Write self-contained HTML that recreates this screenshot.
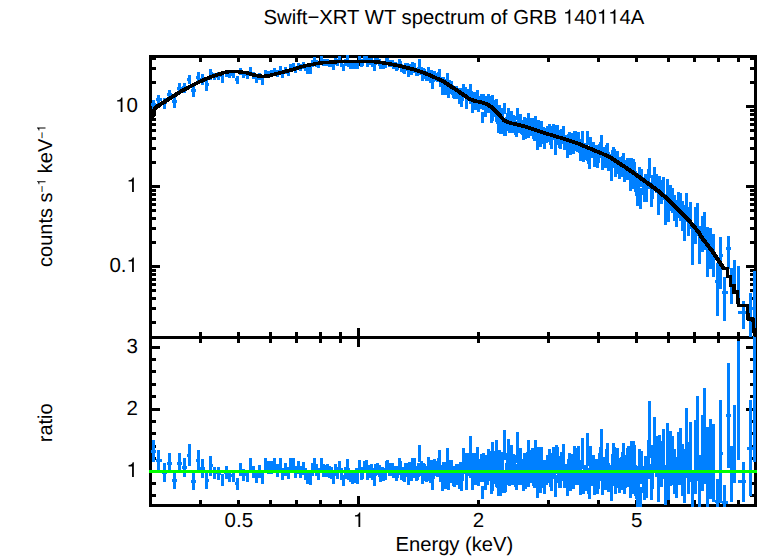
<!DOCTYPE html>
<html><head><meta charset="utf-8"><title>Swift-XRT WT spectrum of GRB 140114A</title>
<style>html,body{margin:0;padding:0;background:#fff}svg{display:block}</style></head>
<body><svg width="758" height="556" viewBox="0 0 758 556" shape-rendering="crispEdges" text-rendering="geometricPrecision">
<rect width="758" height="556" fill="#fff"/>
<g font-family="'Liberation Sans', sans-serif" fill="#000">
<text x="454.4" y="551" text-anchor="middle" font-size="20.2">Energy (keV)</text>
<text x="224.54" y="527" font-size="20.5">0.5</text>
<path d="M360.26 527.00L360.26 512.47L359.05 512.47C358.85 513.67 358.03 515.01 354.97 515.21L354.97 516.50L358.46 516.50L358.46 527.00Z" shape-rendering="auto"/>
<text x="472.71" y="527" font-size="20.5">2</text>
<text x="631.09" y="527" font-size="20.5">5</text>
<path d="M122.46 112.10L122.46 97.57L121.25 97.57C121.05 98.77 120.23 100.11 117.17 100.31L117.17 101.60L120.66 101.60L120.66 112.10Z" shape-rendering="auto"/><text x="126.50" y="112.1" font-size="20.5">0</text>
<path d="M133.86 192.10L133.86 177.57L132.65 177.57C132.45 178.78 131.63 180.11 128.57 180.31L128.57 181.60L132.06 181.60L132.06 192.10Z" shape-rendering="auto"/>
<text x="109.41" y="272.1" font-size="20.5">0.</text><path d="M133.86 272.10L133.86 257.57L132.65 257.57C132.45 258.78 131.63 260.11 128.57 260.31L128.57 261.60L132.06 261.60L132.06 272.10Z" shape-rendering="auto"/>
<path d="M133.86 476.90L133.86 462.37L132.65 462.37C132.45 463.57 131.63 464.91 128.57 465.11L128.57 466.40L132.06 466.40L132.06 476.90Z" shape-rendering="auto"/>
<text x="126.50" y="414.9" font-size="20.5">2</text>
<text x="126.50" y="352.9" font-size="20.5">3</text>
<text x="263.49" y="23.8" font-size="20.3" xml:space="preserve">Swift−XRT WT spectrum of GRB </text><path d="M570.29 23.80L570.29 9.41L569.09 9.41C568.89 10.61 568.07 11.92 565.05 12.13L565.05 13.41L568.50 13.41L568.50 23.80Z" shape-rendering="auto"/><text x="574.28" y="23.8" font-size="20.3">4</text><text x="585.57" y="23.8" font-size="20.3">0</text><path d="M604.15 23.80L604.15 9.41L602.95 9.41C602.75 10.61 601.93 11.92 598.91 12.13L598.91 13.41L602.36 13.41L602.36 23.80Z" shape-rendering="auto"/><path d="M615.43 23.80L615.43 9.41L614.24 9.41C614.03 10.61 613.22 11.92 610.20 12.13L610.20 13.41L613.65 13.41L613.65 23.80Z" shape-rendering="auto"/><text x="619.43" y="23.8" font-size="20.3">4</text><text x="630.72" y="23.8" font-size="20.3">A</text>
<g transform="translate(52,196) rotate(-90)"><text x="-70.93" y="0" font-size="20">counts s</text><text x="3.55" y="-6.5" font-size="12.0">−</text><path d="M14.87 -6.50L14.87 -15.01L14.16 -15.01C14.04 -14.30 13.56 -13.52 11.77 -13.40L11.77 -12.64L13.81 -12.64L13.81 -6.50Z" shape-rendering="auto"/><text x="17.23" y="0" font-size="20" xml:space="preserve"> keV</text><text x="57.25" y="-6.5" font-size="12.0">−</text><path d="M68.57 -6.50L68.57 -15.01L67.86 -15.01C67.74 -14.30 67.26 -13.52 65.47 -13.40L65.47 -12.64L67.51 -12.64L67.51 -6.50Z" shape-rendering="auto"/></g>
<text transform="translate(52,422.8) rotate(-90)" text-anchor="middle" font-size="20">ratio</text>
</g>
<g fill="none" stroke="#000" stroke-width="3">
<path d="M150.5 55.0V507.0M755.5 55.0V507.0M150.5 56.5H755.5M150.5 337.5H755.5M150.5 505.5H755.5"/>
<path d="M200.5 56.5v5.5M200.5 337.5v-5.5M200.5 337.5v5.5M200.5 505.5v-5.5M238.5 56.5v5.5M238.5 337.5v-5.5M238.5 337.5v5.5M238.5 505.5v-5.5M270.5 56.5v5.5M270.5 337.5v-5.5M270.5 337.5v5.5M270.5 505.5v-5.5M296.5 56.5v5.5M296.5 337.5v-5.5M296.5 337.5v5.5M296.5 505.5v-5.5M320.5 56.5v5.5M320.5 337.5v-5.5M320.5 337.5v5.5M320.5 505.5v-5.5M340.5 56.5v5.5M340.5 337.5v-5.5M340.5 337.5v5.5M340.5 505.5v-5.5M358.5 56.5v9.5M358.5 337.5v-9.5M358.5 337.5v9.5M358.5 505.5v-9.5M478.5 56.5v5.5M478.5 337.5v-5.5M478.5 337.5v5.5M478.5 505.5v-5.5M548.5 56.5v5.5M548.5 337.5v-5.5M548.5 337.5v5.5M548.5 505.5v-5.5M598.5 56.5v5.5M598.5 337.5v-5.5M598.5 337.5v5.5M598.5 505.5v-5.5M636.5 56.5v5.5M636.5 337.5v-5.5M636.5 337.5v5.5M636.5 505.5v-5.5M668.5 56.5v5.5M668.5 337.5v-5.5M668.5 337.5v5.5M668.5 505.5v-5.5M694.5 56.5v5.5M694.5 337.5v-5.5M694.5 337.5v5.5M694.5 505.5v-5.5M718.5 56.5v5.5M718.5 337.5v-5.5M718.5 337.5v5.5M718.5 505.5v-5.5M738.5 56.5v5.5M738.5 337.5v-5.5M738.5 337.5v5.5M738.5 505.5v-5.5M150.5 322.5h5.5M755.5 322.5h-5.5M150.5 308.5h5.5M755.5 308.5h-5.5M150.5 298.5h5.5M755.5 298.5h-5.5M150.5 290.5h5.5M755.5 290.5h-5.5M150.5 284.5h5.5M755.5 284.5h-5.5M150.5 279.5h5.5M755.5 279.5h-5.5M150.5 274.5h5.5M755.5 274.5h-5.5M150.5 270.5h5.5M755.5 270.5h-5.5M150.5 266.5h9.5M755.5 266.5h-9.5M150.5 242.5h5.5M755.5 242.5h-5.5M150.5 228.5h5.5M755.5 228.5h-5.5M150.5 218.5h5.5M755.5 218.5h-5.5M150.5 210.5h5.5M755.5 210.5h-5.5M150.5 204.5h5.5M755.5 204.5h-5.5M150.5 199.5h5.5M755.5 199.5h-5.5M150.5 194.5h5.5M755.5 194.5h-5.5M150.5 190.5h5.5M755.5 190.5h-5.5M150.5 186.5h9.5M755.5 186.5h-9.5M150.5 162.5h5.5M755.5 162.5h-5.5M150.5 148.5h5.5M755.5 148.5h-5.5M150.5 138.5h5.5M755.5 138.5h-5.5M150.5 130.5h5.5M755.5 130.5h-5.5M150.5 124.5h5.5M755.5 124.5h-5.5M150.5 119.5h5.5M755.5 119.5h-5.5M150.5 114.5h5.5M755.5 114.5h-5.5M150.5 110.5h5.5M755.5 110.5h-5.5M150.5 106.5h9.5M755.5 106.5h-9.5M150.5 82.5h5.5M755.5 82.5h-5.5M150.5 68.5h5.5M755.5 68.5h-5.5M150.5 58.5h5.5M755.5 58.5h-5.5M150.5 495.5h5.5M755.5 495.5h-5.5M150.5 483.5h5.5M755.5 483.5h-5.5M150.5 471.5h9.5M755.5 471.5h-9.5M150.5 458.5h5.5M755.5 458.5h-5.5M150.5 446.5h5.5M755.5 446.5h-5.5M150.5 433.5h5.5M755.5 433.5h-5.5M150.5 421.5h5.5M755.5 421.5h-5.5M150.5 409.5h9.5M755.5 409.5h-9.5M150.5 396.5h5.5M755.5 396.5h-5.5M150.5 384.5h5.5M755.5 384.5h-5.5M150.5 371.5h5.5M755.5 371.5h-5.5M150.5 359.5h5.5M755.5 359.5h-5.5M150.5 347.5h9.5M755.5 347.5h-9.5"/>
</g>
<g fill="none" stroke="#0080ff" stroke-width="3">
<path d="M153.3 99.9V109.3M150.5 104.3H156.2M158.9 95.0V105.1M156.2 99.7H161.7M164.3 97.8V108.8M161.7 102.8H167.0M169.6 89.5V99.7M167.0 94.3H172.1M174.6 95.7V107.5M172.1 101.1H177.1M179.6 83.3V93.5M177.1 88.0H182.0M184.4 82.6V93.1M182.0 87.5H186.7M189.1 74.5V84.1M186.7 79.0H191.4M193.6 85.3V97.2M191.4 90.8H195.8M198.0 72.4V82.4M195.8 77.0H200.2M202.4 74.3V84.9M200.2 79.2H204.5M206.6 78.9V90.7M204.5 84.3H208.7M210.7 69.1V79.5M208.7 73.9H212.7M214.7 73.0V80.4M212.7 76.5H216.7M218.6 72.2V79.6M216.7 75.7H220.6M222.5 74.9V82.7M220.6 78.6H224.4M226.2 69.5V76.7M224.4 72.9H228.1M229.9 70.8V78.2M228.1 74.3H231.7M233.5 70.9V78.3M231.7 74.4H235.3M237.0 76.1V83.9M235.3 79.8H238.8M240.5 67.8V74.7M238.8 71.1H242.2M243.9 71.1V78.3M242.2 74.6H245.6M247.2 72.2V79.4M245.6 75.6H248.9M250.5 67.3V73.9M248.9 70.5H252.1M253.7 72.2V79.2M252.1 75.5H255.3M256.8 75.9V83.2M255.3 79.3H258.4M259.9 73.0V80.0M258.4 76.3H261.4M262.9 77.1V84.5M261.4 80.6H264.4M265.9 69.5V76.0M264.4 72.6H267.4M268.9 70.5V77.2M267.4 73.7H270.3M271.7 69.8V76.5M270.3 73.0H273.2M274.6 67.7V74.0M273.2 70.7H276.0M277.4 70.0V76.9M276.0 73.3H278.7M280.1 66.3V72.7M278.7 69.4H281.5M282.8 70.5V77.6M281.5 73.9H284.1M285.5 67.2V74.1M284.1 70.5H286.8M288.1 68.5V75.5M286.8 71.8H289.4M290.7 63.5V70.0M289.4 66.6H291.9M293.2 62.8V69.3M291.9 65.9H294.5M295.7 65.7V72.7M294.5 69.0H297.0M298.2 62.5V69.2M297.0 65.7H299.4M300.6 64.1V71.0M299.4 67.4H301.8M303.0 61.8V68.6M301.8 65.0H304.2M305.4 64.2V71.3M304.2 67.6H306.6M307.7 66.2V73.5M306.6 69.7H308.9M310.0 66.1V73.5M308.9 69.6H311.2M312.3 60.4V67.2M311.2 63.6H313.4M314.5 57.4V63.9M313.4 60.5H315.7M316.8 59.8V66.7M315.7 63.1H317.9M318.9 61.4V68.4M317.9 64.7H320.0M321.1 56.4V62.9M320.0 59.5H322.2M323.2 59.1V66.0M322.2 62.4H324.3M325.3 59.3V66.2M324.3 62.6H326.4M327.4 58.8V65.7M326.4 62.1H328.5M329.5 59.6V66.6M328.5 62.9H330.5M331.5 60.0V67.0M330.5 63.3H332.5M333.5 62.7V70.0M332.5 66.2H334.5M335.5 58.0V64.8M334.5 61.2H336.5M337.5 59.3V66.3M336.5 62.6H338.5M339.4 56.4V63.1M338.5 59.6H340.4M341.3 60.0V67.0M340.4 63.3H342.3M343.2 63.9V71.4M342.3 67.4H344.2M345.1 59.4V66.3M344.2 62.7H346.1M347.0 55.4V61.9M346.1 58.5H347.9M348.8 60.1V67.1M347.9 63.4H349.7M350.6 61.3V68.5M349.7 64.7H351.5M352.4 62.1V69.4M351.5 65.5H353.3M354.2 61.7V69.0M353.3 65.1H355.1M356.0 59.9V66.9M355.1 63.2H356.9M357.7 62.0V69.3M356.9 65.5H358.6M359.5 55.8V62.4M358.6 58.9H360.3M361.2 59.8V66.8M360.3 63.2H362.0M362.9 58.9V65.8M362.0 62.2H363.7M364.5 55.9V62.6M363.7 59.1H365.4M366.2 55.8V62.4M365.4 58.9H367.0M367.9 59.6V66.7M367.0 63.0H368.7M369.5 58.4V65.2M368.7 61.6H370.3M371.1 57.5V64.3M370.3 60.8H371.9M372.7 59.8V66.8M371.9 63.1H373.5M374.3 63.9V71.3M373.5 67.4H375.1M375.9 58.1V64.9M375.1 61.3H376.6M377.4 57.6V64.4M376.6 60.8H378.2M379.0 58.8V65.7M378.2 62.1H379.7M380.5 62.1V69.3M379.7 65.5H381.2M382.0 60.6V67.6M381.2 63.9H382.8M383.5 61.8V68.8M382.8 65.1H384.3M385.0 61.3V68.3M384.3 64.6H385.7M386.5 57.9V64.5M385.7 61.1H387.2M387.9 57.7V64.2M387.2 60.8H388.7M389.4 59.8V66.5M388.7 63.0H390.1M390.8 60.3V67.0M390.1 63.5H391.6M392.3 60.2V67.0M391.6 63.4H393.0M393.7 62.0V68.9M393.0 65.3H394.4M395.1 62.4V69.3M394.4 65.7H395.8M396.5 64.1V71.2M395.8 67.5H397.2M397.9 62.9V69.8M397.2 66.2H398.5M399.2 59.4V65.8M398.5 62.4H399.9M400.6 60.9V68.2M399.9 64.4H401.3M401.9 64.1V71.8M401.3 67.7H402.6M403.3 64.7V72.5M402.6 68.4H404.0M404.6 66.0V74.0M404.0 69.8H405.3M405.9 63.2V70.8M405.3 66.8H406.6M407.2 63.4V71.1M406.6 67.0H407.9M408.5 68.5V76.8M407.9 72.4H409.2M409.8 63.7V71.5M409.2 67.4H410.5M411.1 66.7V74.8M410.5 70.5H411.7M412.4 62.3V69.8M411.7 65.9H413.0M413.6 65.5V73.4M413.0 69.2H414.3M414.9 63.0V70.6M414.3 66.6H415.5M416.1 67.8V76.1M415.5 71.7H416.8M417.4 67.7V75.9M416.8 71.6H418.0M418.6 66.6V74.6M418.0 70.4H419.2M419.8 59.3V66.7M419.2 62.8H420.4M421.0 66.6V74.6M420.4 70.4H421.6M422.2 71.9V80.6M421.6 75.9H422.8M423.4 68.3V76.6M422.8 72.2H424.0M424.6 69.2V77.6M424.0 73.1H425.2M425.8 70.9V79.4M425.2 74.9H426.4M426.9 72.0V80.6M426.4 76.1H427.5M428.1 67.4V75.3M427.5 71.1H428.7M429.3 72.2V80.8M428.7 76.2H429.8M430.4 74.0V82.8M429.8 78.1H431.0M431.5 70.3V78.6M431.0 74.2H432.1M432.7 81.0V88.8M432.1 84.7H433.2M433.8 73.2V81.8M433.2 77.2H434.4M434.9 71.3V79.7M434.4 75.3H435.5M436.0 72.6V81.1M435.5 76.6H436.6M437.1 73.4V82.0M436.6 77.5H437.7M438.2 72.3V80.7M437.7 76.3H438.8M439.3 69.3V77.3M438.8 73.1H439.8M440.4 77.7V86.8M439.8 81.9H440.9M441.5 77.4V86.5M440.9 81.6H442.0M442.5 86.5V94.7M442.0 90.4H443.1M443.6 76.7V85.7M443.1 80.9H444.1M444.6 81.2V90.8M444.1 85.7H445.2M445.7 84.4V94.6M445.2 89.1H446.2M446.7 79.0V88.3M446.2 83.3H447.2M447.8 73.4V81.9M447.2 77.4H448.3M448.8 87.1V97.5M448.3 91.9H449.3M449.8 80.2V89.5M449.3 84.6H450.3M450.8 84.2V94.1M450.3 88.8H451.3M451.8 81.1V90.5M451.3 85.5H452.3M452.8 84.9V94.8M452.3 89.5H453.3M453.8 87.5V97.8M453.3 92.2H454.3M454.8 88.5V99.0M454.3 93.3H455.3M455.8 86.6V96.8M455.3 91.3H456.3M456.8 86.4V96.5M456.3 91.1H457.3M457.8 88.9V99.4M457.3 93.7H458.3M458.8 87.7V98.0M458.3 92.5H459.2M459.7 92.9V103.9M459.2 98.0H460.2M460.7 88.1V98.3M460.2 92.8H461.2M461.6 95.2V106.6M461.2 100.5H462.1M462.6 90.1V100.6M462.1 94.9H463.1M463.5 84.0V93.5M463.1 88.4H464.0M464.5 87.3V97.2M464.0 91.9H464.9M465.4 87.4V97.2M464.9 91.9H465.9M466.3 97.6V109.3M465.9 103.0H466.8M467.3 90.1V100.4M466.8 94.9H467.7M468.2 89.3V99.5M467.7 94.0H468.6M469.1 90.5V100.8M468.6 95.3H469.5M470.0 83.6V93.4M469.5 88.1H470.5M470.9 93.0V103.7M470.5 97.9H471.4M471.8 90.7V100.7M471.4 95.3H472.3M472.7 100.7V112.8M472.3 106.2H473.1M473.6 93.7V104.6M473.1 98.7H474.0M474.5 92.0V102.5M474.0 96.8H474.9M475.4 98.4V110.1M474.9 103.8H475.8M476.2 94.0V105.0M475.8 99.1H476.7M477.1 90.1V100.4M476.7 94.8H477.5M478.0 99.4V111.4M477.5 104.9H478.4M478.8 99.6V111.6M478.4 105.1H479.3M479.7 95.9V107.4M479.3 101.2H480.1M480.6 97.1V108.8M480.1 102.4H481.0M481.4 93.7V104.7M481.0 98.8H481.8M482.3 112.2V122.9M481.8 117.1H482.7M483.1 98.0V109.8M482.7 103.4H483.5M483.9 94.3V105.5M483.5 99.5H484.4M484.8 95.9V107.4M484.4 101.2H485.2M485.6 103.5V116.5M485.2 109.4H486.0M486.4 96.0V107.5M486.0 101.3H486.8M487.3 100.7V113.0M486.8 106.3H487.7M488.1 94.3V105.2M487.7 99.3H488.5M488.9 98.7V110.6M488.5 104.2H489.3M489.7 96.0V107.4M489.3 101.2H490.1M490.5 100.4V112.5M490.1 105.9H490.9M491.3 109.3V123.2M490.9 115.6H491.7M492.1 107.6V121.0M491.7 113.7H492.5M492.9 94.7V105.9M492.5 99.9H493.3M493.7 104.4V117.0M493.3 110.1H494.1M494.5 100.1V111.8M494.1 105.4H494.9M495.3 104.1V116.3M494.9 109.7H495.7M496.1 109.0V122.2M495.7 115.0H496.5M496.9 98.5V109.9M496.5 103.7H497.3M497.7 111.0V124.3M497.3 117.1H498.1M498.5 117.8V132.5M498.1 124.4H498.9M499.3 104.9V116.2M498.9 110.1H499.7M500.1 118.8V133.5M499.7 125.4H500.5M500.9 108.6V120.9M500.5 114.2H501.3M501.7 108.3V120.4M501.3 113.8H502.1M502.5 112.1V124.9M502.1 117.9H502.9M503.3 122.7V134.4M502.9 128.1H503.7M504.1 102.5V114.3M503.7 107.9H504.5M504.9 121.2V135.7M504.5 127.7H505.3M505.7 121.1V135.5M505.3 127.6H506.1M506.5 117.0V130.5M506.1 123.1H507.0M507.4 112.8V125.3M507.0 118.5H507.8M508.2 107.5V119.5M507.8 113.0H508.6M509.0 113.3V126.0M508.6 119.1H509.4M509.8 118.7V132.5M509.4 124.9H510.2M510.6 117.8V131.4M510.2 123.9H511.0M511.4 111.1V123.3M511.0 116.7H511.8M512.2 118.7V132.5M511.8 125.0H512.6M513.1 115.1V128.2M512.6 121.0H513.5M513.9 119.0V132.8M513.5 125.2H514.3M514.7 115.9V129.1M514.3 121.9H515.1M515.5 120.5V134.7M515.1 126.9H515.9M516.3 124.8V137.3M515.9 130.5H516.7M517.2 107.6V120.1M516.7 113.3H517.6M518.0 119.3V133.4M517.6 125.6H518.4M518.8 116.2V129.6M518.4 122.3H519.2M519.6 118.1V131.9M519.2 124.3H520.1M520.5 114.2V126.7M520.1 119.9H520.9M521.3 120.2V134.4M520.9 126.6H521.7M522.1 120.5V134.7M521.7 126.9H522.5M523.0 124.5V139.7M522.5 131.3H523.4M523.8 119.9V133.8M523.4 126.2H524.2M524.6 117.4V130.7M524.2 123.4H525.0M525.5 123.8V138.6M525.0 130.4H525.9M526.3 120.9V134.9M525.9 127.2H526.7M527.1 117.9V131.3M526.7 124.0H527.6M528.0 113.2V125.9M527.6 119.0H528.4M528.8 123.8V138.3M528.4 130.3H529.2M529.7 117.8V130.9M529.2 123.7H530.1M530.5 121.6V135.6M530.1 127.9H530.9M531.3 120.6V134.3M530.9 126.8H531.8M532.2 117.9V130.9M531.8 123.8H532.6M533.0 118.3V131.3M532.6 124.2H533.5M533.9 124.7V139.2M533.5 131.2H534.3M534.7 125.8V140.5M534.3 132.4H535.1M535.6 116.1V128.9M535.1 121.9H536.0M536.4 124.6V138.9M536.0 131.0H536.8M537.3 133.8V150.3M536.8 141.1H537.7M538.1 119.7V132.7M537.7 125.6H538.6M539.0 124.8V138.9M538.6 131.1H539.4M539.8 122.1V135.6M539.4 128.2H540.3M540.7 131.0V146.5M540.3 137.9H541.1M541.6 120.8V133.8M541.1 126.7H542.0M542.4 128.7V143.5M542.0 135.3H542.8M543.3 126.7V141.0M542.8 133.1H543.7M544.1 133.3V149.1M543.7 140.3H544.6M545.0 127.5V141.9M544.6 133.9H545.4M545.9 128.0V142.5M545.4 134.5H546.3M546.7 128.1V142.5M546.3 134.6H547.2M547.6 125.7V139.5M547.2 131.9H548.0M548.5 127.5V141.7M548.0 133.9H548.9M549.3 124.0V137.4M548.9 130.1H549.8M550.2 130.4V145.2M549.8 137.0H550.6M551.1 133.3V148.6M550.6 140.1H551.5M551.9 128.9V143.2M551.5 135.3H552.4M552.8 126.4V140.1M552.4 132.6H553.3M553.7 124.4V137.6M553.3 130.4H554.1M554.6 126.2V139.7M554.1 132.3H555.0M555.5 138.7V155.3M555.0 146.0H555.9M556.3 124.5V137.5M555.9 130.4H556.8M557.2 125.4V138.4M556.8 131.3H557.7M558.1 130.4V144.6M557.7 136.8H558.5M559.0 133.3V148.2M558.5 139.9H559.4M559.9 129.8V143.9M559.4 136.1H560.3M560.7 133.5V149.2M560.3 140.5H561.2M561.6 128.7V142.5M561.2 134.9H562.1M562.5 129.1V144.3M562.1 135.9H563.0M563.4 126.2V139.3M563.0 132.1H563.9M564.3 135.4V150.0M563.9 141.9H564.7M565.2 135.2V149.1M564.7 141.5H565.6M566.1 136.5V150.0M565.6 142.6H566.5M567.0 145.0V158.0M566.5 150.9H567.4M567.9 142.7V157.6M567.4 149.4H568.3M568.8 134.4V150.7M568.3 141.6H569.2M569.7 131.6V146.4M569.2 138.3H570.1M570.6 140.6V154.5M570.1 146.8H571.0M571.5 132.6V146.2M571.0 138.7H571.9M572.4 134.9V150.4M571.9 141.8H572.8M573.3 136.7V153.6M572.8 144.2H573.7M574.2 130.5V145.1M573.7 137.0H574.6M575.1 131.4V144.8M574.6 137.5H575.5M576.0 135.9V151.4M575.5 142.8H576.4M576.9 134.9V149.5M576.4 141.4H577.4M577.8 138.3V151.8M577.4 144.4H578.3M578.7 132.0V147.6M578.3 139.0H579.2M579.6 138.5V153.1M579.2 145.1H580.1M580.6 143.7V161.2M580.1 151.3H581.0M581.5 146.9V160.5M581.0 153.1H581.9M582.4 130.6V144.2M581.9 136.8H582.8M583.3 144.9V161.6M582.8 152.2H583.8M584.2 144.1V159.2M583.8 150.9H584.7M585.1 143.0V158.4M584.7 149.9H585.6M586.1 144.0V159.9M585.6 151.1H586.5M587.0 130.7V144.5M586.5 136.9H587.4M587.9 145.9V161.1M587.4 152.7H588.4M588.8 146.7V164.4M588.4 154.4H589.3M589.8 155.4V169.2M589.3 161.6H590.2M590.7 136.8V153.1M590.2 144.0H591.2M591.6 144.4V158.4M591.2 150.7H592.1M592.5 142.0V156.3M592.1 148.4H593.0M593.5 142.1V155.8M593.0 148.3H593.9M594.4 151.2V167.4M593.9 158.3H594.9M595.4 144.8V159.5M594.9 151.4H595.8M596.3 144.9V160.8M595.8 152.0H596.8M597.2 152.7V167.8M596.8 159.4H597.7M598.2 149.2V163.3M597.7 155.6H598.6M599.1 143.5V158.1M598.6 150.0H599.6M600.0 141.5V157.3M599.6 148.5H600.5M601.0 135.1V149.2M600.5 141.4H601.5M601.9 141.2V155.6M601.5 147.7H602.4M602.9 156.1V170.4M602.4 162.5H603.4M603.8 147.4V162.3M603.4 154.1H604.3M604.8 149.9V163.6M604.3 156.0H605.2M605.7 153.2V168.0M605.2 159.9H606.2M606.7 145.0V161.4M606.2 152.2H607.1M607.6 143.0V157.7M607.1 149.6H608.1M608.6 152.4V171.1M608.1 160.5H609.1M609.5 154.3V171.2M609.1 161.7H610.0M610.5 154.2V169.4M610.0 161.0H611.0M611.4 163.5V181.4M611.0 171.3H611.9M612.4 150.4V168.2M611.9 158.2H612.9M613.4 146.6V160.1M612.9 152.7H613.8M614.3 148.5V163.6M613.8 155.3H614.8M615.3 160.7V177.0M614.8 167.9H615.8M616.3 154.2V170.7M615.8 161.5H616.7M617.2 150.8V169.1M616.7 158.8H617.7M618.2 157.1V173.9M617.7 164.5H618.7M619.2 161.5V178.7M618.7 169.0H619.6M620.1 157.2V173.3M619.6 164.3H620.6M621.1 157.2V176.7M620.6 165.6H621.6M622.1 155.9V175.1M621.6 164.2H622.6M623.1 152.9V171.4M622.6 160.9H623.5M624.0 164.0V182.3M623.5 172.0H624.5M625.0 161.6V178.1M624.5 168.9H625.5M626.0 159.7V177.6M625.5 167.5H626.5M627.0 157.5V175.5M626.5 165.3H627.5M627.9 161.7V179.6M627.5 169.5H628.4M628.9 157.9V173.5M628.4 164.8H629.4M629.9 162.5V178.6M629.4 169.6H630.4M630.9 174.5V190.6M630.4 181.6H631.4M631.9 158.0V173.7M631.4 165.0H632.4M632.9 168.4V188.9M632.4 177.1H633.4M633.9 159.3V178.7M633.4 167.7H634.4M634.9 161.9V178.5M634.4 169.2H635.3M635.8 171.2V192.3M635.3 180.2H636.3M636.8 177.3V196.3M636.3 185.5H637.3M637.8 189.3V206.1M637.3 196.7H638.3M638.8 173.9V189.9M638.3 181.0H639.3M639.8 167.0V183.7M639.3 174.4H640.3M640.8 188.4V208.5M640.3 197.0H641.3M641.9 169.2V187.3M641.3 177.1H642.4M643.0 177.3V195.1M642.4 185.1H643.6M644.2 182.8V202.3M643.6 191.2H644.8M645.4 174.1V191.7M644.8 181.8H646.1M646.7 177.9V202.0M646.1 187.9H647.4M648.1 169.3V188.6M647.4 177.6H648.8M649.6 158.4V177.9M648.8 166.8H650.4M651.2 181.8V207.1M650.4 192.2H652.0M652.8 174.6V198.9M652.0 184.7H653.7M654.5 166.6V187.4M653.7 175.5H655.4M656.2 174.1V193.1M655.4 182.3H657.1M658.0 186.9V214.6M657.1 198.1H658.9M659.8 176.3V199.1M658.9 185.9H660.6M661.5 180.2V204.3M660.6 190.2H662.4M663.3 177.4V200.3M662.4 187.0H664.2M665.2 193.9V224.8M664.2 206.0H666.1M667.0 178.6V202.2M666.1 188.5H667.9M668.8 197.0V221.7M667.9 207.2H669.8M670.7 184.9V211.2M669.8 195.6H671.7M672.6 188.2V212.9M671.7 198.4H673.6M674.5 195.2V221.2M673.6 205.8H675.5M676.5 200.4V226.8M675.5 211.2H677.5M678.4 192.4V218.3M677.5 203.0H679.4M680.4 193.3V220.6M679.4 204.3H681.4M682.4 200.8V231.2M681.4 212.8H683.4M684.4 205.0V241.0M683.4 218.5H685.4M686.5 193.4V222.2M685.4 204.9H687.5M688.5 206.7V236.0M687.5 218.4H689.6M690.6 202.4V229.4M689.6 213.3H691.7M692.8 224.7V264.6M691.7 239.2H693.8M695.0 206.8V243.6M693.8 220.5H696.1M697.3 203.0V236.4M696.1 215.8H698.5M699.7 225.8V263.5M698.5 239.8H701.0M702.3 215.8V251.8M701.0 229.3H703.6M704.9 212.1V249.8M703.6 226.1H706.3M707.7 226.7V277.1M706.3 243.5H709.1M710.6 227.9V269.3M709.1 242.8H712.1M713.7 233.8V277.3M712.1 249.1H715.3M717.0 263.3V315.5M715.3 281.9H718.8M720.7 237.3V288.9M718.8 255.2H722.7M724.9 277.0V321.0M721.5 292.5H728.3M728.3 235.9V269.3M725.5 248.7H731.0M731.7 267.8V303.6M730.0 281.3H733.5M734.0 260.2V292.8M733.0 272.8H735.5M738.4 266.3V299.8M736.5 279.2H740.3M743.0 300.7V329.0M738.4 312.1H746.3M750.3 292.7V336.8M746.5 308.2H754.0M754.3 271.2V328.3M753.5 294.7H755.5"/>
<path d="M153.3 440.2V462.3M150.5 451.3H156.2M158.9 450.2V471.0M156.2 460.6H161.7M164.3 462.8V481.9M161.7 472.3H167.0M169.6 452.8V473.3M167.0 463.0H172.1M174.6 471.5V489.3M172.1 480.4H177.1M179.6 452.8V473.3M177.1 463.0H182.0M184.4 457.5V477.3M182.0 467.4H186.7M189.1 444.2V465.8M186.7 455.0H191.4M193.6 472.2V489.8M191.4 481.0H195.8M198.0 450.2V471.0M195.8 460.6H200.2M202.4 458.8V478.4M200.2 468.6H204.5M206.6 471.5V489.3M204.5 480.4H208.7M210.7 455.5V475.6M208.7 465.5H212.7M214.7 466.5V479.3M212.7 472.9H216.7M218.6 467.2V479.9M216.7 473.5H220.6M222.5 474.1V486.0M220.6 480.1H224.4M226.2 466.1V478.7M224.4 472.4H228.1M229.9 469.6V481.8M228.1 475.7H231.7M233.5 469.9V481.9M231.7 475.9H235.3M237.0 478.4V489.5M235.3 483.9H238.8M240.5 463.2V475.8M238.8 469.5H242.2M243.9 468.9V480.9M242.2 474.9H245.6M247.2 470.0V481.9M245.6 476.0H248.9M250.5 458.1V471.1M248.9 464.6H252.1M253.7 466.0V478.3M252.1 472.1H255.3M256.8 471.3V483.1M255.3 477.2H258.4M259.9 465.4V477.7M258.4 471.5H261.4M262.9 472.5V484.1M261.4 478.3H264.4M265.9 458.1V470.9M264.4 464.5H267.4M268.9 460.8V473.6M267.4 467.2H270.3M271.7 461.0V473.7M270.3 467.4H273.2M274.6 458.1V470.6M273.2 464.4H276.0M277.4 464.4V476.8M276.0 470.6H278.7M280.1 458.1V470.9M278.7 464.5H281.5M282.8 468.1V480.1M281.5 474.1H284.1M285.5 463.2V475.7M284.1 469.4H286.8M288.1 467.0V479.1M286.8 473.0H289.4M290.7 458.2V470.9M289.4 464.6H291.9M293.2 458.2V470.9M291.9 464.5H294.5M295.7 465.7V477.9M294.5 471.8H297.0M298.2 460.8V473.5M297.0 467.1H299.4M300.6 465.6V477.8M299.4 471.7H301.8M303.0 462.4V474.9M301.8 468.6H304.2M305.4 468.4V480.4M304.2 474.4H306.6M307.7 472.8V484.3M306.6 478.6H308.9M310.0 473.3V484.7M308.9 479.0H311.2M312.3 463.4V475.9M311.2 469.6H313.4M314.5 458.2V470.9M313.4 464.5H315.7M316.8 464.0V476.4M315.7 470.2H317.9M318.9 467.7V479.7M317.9 473.7H320.0M321.1 458.2V471.0M320.0 464.6H322.2M323.2 464.4V476.7M322.2 470.5H324.3M325.3 465.0V477.3M324.3 471.2H326.4M327.4 464.4V476.8M326.4 470.6H328.5M329.5 466.3V478.4M328.5 472.3H330.5M331.5 467.1V479.2M330.5 473.2H332.5M333.5 472.3V483.9M332.5 478.1H334.5M335.5 463.7V476.1M334.5 469.9H336.5M337.5 466.5V478.6M336.5 472.5H338.5M339.4 460.8V473.4M338.5 467.1H340.4M341.3 467.9V479.8M340.4 473.9H342.3M343.2 474.9V486.2M342.3 480.5H344.2M345.1 466.8V478.9M344.2 472.9H346.1M347.0 458.9V471.6M346.1 465.2H347.9M348.8 468.3V480.2M347.9 474.2H349.7M350.6 470.6V482.3M349.7 476.5H351.5M352.4 472.1V483.6M351.5 477.8H353.3M354.2 471.5V483.1M353.3 477.3H355.1M356.0 468.2V480.1M355.1 474.1H356.9M357.7 472.2V483.7M356.9 477.9H358.6M359.5 460.2V472.8M358.6 466.5H360.3M361.2 468.2V480.1M360.3 474.1H362.0M362.9 466.5V478.5M362.0 472.5H363.7M364.5 460.5V473.1M363.7 466.8H365.4M366.2 460.2V472.9M365.4 466.5H367.0M367.9 467.9V479.8M367.0 473.9H368.7M369.5 465.4V477.6M368.7 471.5H370.3M371.1 463.6V475.9M370.3 469.8H371.9M372.7 467.7V479.7M371.9 473.7H373.5M374.3 474.8V486.0M373.5 480.4H375.1M375.9 463.8V476.1M375.1 470.0H376.6M377.4 462.7V475.1M376.6 468.9H378.2M379.0 464.8V477.0M378.2 470.9H379.7M380.5 470.8V482.4M379.7 476.6H381.2M382.0 467.4V479.4M381.2 473.4H382.8M383.5 469.1V480.9M382.8 475.0H384.3M385.0 467.8V479.7M384.3 473.7H385.7M386.5 460.6V473.1M385.7 466.9H387.2M387.9 459.5V472.1M387.2 465.8H388.7M389.4 463.2V475.6M388.7 469.4H390.1M390.8 463.7V476.0M390.1 469.8H391.6M392.3 463.1V475.4M391.6 469.2H393.0M393.7 466.1V478.1M393.0 472.1H394.4M395.1 466.3V478.3M394.4 472.3H395.8M396.5 468.9V480.7M395.8 474.8H397.2M397.9 466.1V478.1M397.2 472.1H398.5M399.2 458.3V470.9M398.5 464.6H399.9M400.6 460.9V474.7M399.9 467.8H401.3M401.9 466.7V479.9M401.3 473.3H402.6M403.3 467.2V480.5M402.6 473.8H404.0M404.6 469.1V482.2M404.0 475.6H405.3M405.9 462.9V476.7M405.3 469.8H406.6M407.2 462.7V476.7M406.6 469.7H407.9M408.5 471.8V484.8M407.9 478.3H409.2M409.8 462.1V476.2M409.2 469.1H410.5M411.1 467.3V481.0M410.5 474.1H411.7M412.4 457.7V472.4M411.7 465.0H413.0M413.6 463.5V477.7M413.0 470.6H414.3M414.9 457.5V472.2M414.3 464.9H415.5M416.1 466.5V480.6M415.5 473.6H416.8M417.4 465.6V479.8M416.8 472.7H418.0M418.6 462.5V477.1M418.0 469.8H419.2M419.8 445.1V462.0M419.2 453.6H420.4M421.0 461.0V475.9M420.4 468.4H421.6M422.2 470.4V484.3M421.6 477.4H422.8M423.4 462.9V477.7M422.8 470.3H424.0M424.6 463.7V478.5M424.0 471.1H425.2M425.8 466.1V480.7M425.2 473.4H426.4M426.9 467.2V481.7M426.4 474.5H427.5M428.1 456.8V472.3M427.5 464.5H428.7M429.3 465.8V480.6M428.7 473.2H429.8M430.4 468.2V482.8M429.8 475.5H431.0M431.5 460.1V475.6M431.0 467.8H432.1M432.7 478.6V489.6M432.1 484.1H433.2M433.8 463.9V479.2M433.2 471.5H434.4M434.9 459.1V475.0M434.4 467.0H435.5M436.0 460.7V476.4M435.5 468.6H436.6M437.1 461.3V477.1M436.6 469.2H437.7M438.2 457.9V474.1M437.7 466.0H438.8M439.3 450.0V467.1M438.8 458.6H439.8M440.4 466.8V482.1M439.8 474.4H440.9M441.5 465.3V480.9M440.9 473.1H442.0M442.5 480.2V491.3M442.0 485.8H443.1M443.6 461.8V478.1M443.1 470.0H444.1M444.6 469.4V484.8M444.1 477.1H445.2M445.7 473.9V488.8M445.2 481.3H446.2M446.7 462.3V478.9M446.2 470.6H447.2M447.8 448.3V466.7M447.2 457.5H448.3M448.8 474.7V489.8M448.3 482.2H449.3M449.8 460.4V477.5M449.3 469.0H450.3M450.8 467.0V483.4M450.3 475.2H451.3M451.8 459.5V477.0M451.3 468.2H452.3M452.8 465.8V482.6M452.3 474.2H453.3M453.8 469.5V485.9M453.3 477.7H454.3M454.8 470.3V486.7M454.3 478.5H455.3M455.8 465.6V482.8M455.3 474.2H456.3M456.8 464.0V481.5M456.3 472.8H457.3M457.8 467.6V484.6M457.3 476.1H458.3M458.8 464.0V481.7M458.3 472.8H459.2M459.7 472.2V488.9M459.2 480.5H460.2M460.7 461.9V480.1M460.2 471.0H461.2M461.6 474.0V490.5M461.2 482.3H462.1M462.6 463.2V481.4M462.1 472.3H463.1M463.5 448.3V468.5M463.1 458.4H464.0M464.5 454.4V474.0M464.0 464.2H464.9M465.4 453.2V472.7M464.9 463.0H465.9M466.3 472.5V489.7M465.9 481.1H466.8M467.3 456.4V476.0M466.8 466.2H467.7M468.2 453.2V473.4M467.7 463.3H468.6M469.1 454.6V474.8M468.6 464.7H469.5M470.0 436.2V460.2M469.5 448.2H470.5M470.9 458.5V478.3M470.5 468.4H471.4M471.8 452.5V472.7M471.4 462.6H472.3M472.7 472.1V490.1M472.3 481.1H473.1M473.6 457.8V478.0M473.1 467.9H474.0M474.5 453.1V474.1M474.0 463.6H474.9M475.4 466.3V485.4M474.9 475.8H475.8M476.2 456.8V477.4M475.8 467.1H476.7M477.1 447.2V469.3M476.7 458.2H477.5M478.0 467.1V486.3M477.5 476.7H478.4M478.8 467.1V486.4M478.4 476.8H479.3M479.7 459.4V480.1M479.3 469.8H480.1M480.6 461.5V481.9M480.1 471.7H481.0M481.4 453.6V475.2M481.0 464.4H481.8M482.3 486.1V498.5M481.8 492.3H482.7M483.1 461.7V482.3M482.7 472.0H483.5M483.9 453.3V475.3M483.5 464.3H484.4M484.8 456.3V477.9M484.4 467.1H485.2M485.6 470.9V490.3M485.2 480.6H486.0M486.4 455.4V477.3M486.0 466.3H486.8M487.3 464.3V484.9M486.8 474.6H487.7M488.1 449.0V471.7M487.7 460.4H488.5M488.9 458.0V479.8M488.5 468.9H489.3M489.7 450.7V473.7M489.3 462.2H490.1M490.5 459.4V481.1M490.1 470.2H490.9M491.3 475.2V494.3M490.9 484.8H491.7M492.1 471.3V491.2M491.7 481.2H492.5M492.9 441.9V467.0M492.5 454.5H493.3M493.7 462.3V483.8M493.3 473.0H494.1M494.5 450.9V474.3M494.1 462.6H494.9M495.3 457.9V480.2M494.9 469.0H495.7M496.1 466.2V487.3M495.7 476.7H496.5M496.9 440.2V466.2M496.5 453.2H497.3M497.7 466.7V487.8M497.3 477.2H498.1M498.5 477.1V496.4M498.1 486.7H498.9M499.3 449.7V472.9M498.9 461.3H499.7M500.1 475.9V495.6M499.7 485.8H500.5M500.9 454.5V477.9M500.5 466.2H501.3M501.7 451.9V475.8M501.3 463.8H502.1M502.5 458.5V481.4M502.1 470.0H502.9M503.3 476.7V492.9M502.9 484.8H503.7M504.1 430.0V459.7M503.7 444.8H504.5M504.9 472.0V492.8M504.5 482.4H505.3M505.7 471.2V492.2M505.3 481.7H506.1M506.5 462.6V485.3M506.1 474.0H507.0M507.4 452.6V477.0M507.0 464.8H507.8M508.2 438.6V466.2M507.8 452.4H508.6M509.0 452.3V476.9M508.6 464.6H509.4M509.8 463.2V486.1M509.4 474.7H510.2M510.6 460.8V484.1M510.2 472.5H511.0M511.4 445.0V471.1M511.0 458.0H511.8M512.2 462.0V485.3M511.8 473.7H512.6M513.1 453.9V478.7M512.6 466.3H513.5M513.9 461.8V485.3M513.5 473.5H514.3M514.7 454.8V479.6M514.3 467.2H515.1M515.5 464.2V487.4M515.1 475.8H515.9M516.3 472.0V490.4M515.9 481.2H516.7M517.2 432.1V462.6M516.7 447.4H517.6M518.0 460.7V484.7M517.6 472.7H518.4M518.8 453.5V478.9M518.4 466.2H519.2M519.6 457.2V482.0M519.2 469.6H520.1M520.5 447.7V473.5M520.1 460.6H520.9M521.3 460.8V485.0M520.9 472.9H521.7M522.1 460.9V485.1M521.7 473.0H522.5M523.0 468.4V491.2M522.5 479.8H523.4M523.8 458.6V483.2M523.4 470.9H524.2M524.6 452.5V478.2M524.2 465.4H525.0M525.5 465.6V489.0M525.0 477.3H525.9M526.3 459.2V483.8M525.9 471.5H526.7M527.1 452.1V478.0M526.7 465.1H527.6M528.0 439.6V468.3M527.6 453.9H528.4M528.8 463.6V487.4M528.4 475.5H529.2M529.7 449.8V476.1M529.2 462.9H530.1M530.5 457.8V482.7M530.1 470.3H530.9M531.3 455.1V480.5M530.9 467.8H531.8M532.2 447.9V474.5M531.8 461.2H532.6M533.0 448.1V474.7M532.6 461.4H533.5M533.9 461.9V486.1M533.5 474.0H534.3M534.7 463.6V487.5M534.3 475.5H535.1M535.6 440.3V468.9M535.1 454.6H536.0M536.4 459.9V484.5M536.0 472.2H536.8M537.3 476.5V497.9M536.8 487.2H537.7M538.1 447.4V474.1M537.7 460.8H538.6M539.0 458.5V483.4M538.6 470.9H539.4M539.8 451.8V477.9M539.4 464.9H540.3M540.7 469.6V492.5M540.3 481.1H541.1M541.6 447.3V474.1M541.1 460.7H542.0M542.4 464.1V488.1M542.0 476.1H542.8M543.3 459.6V484.4M542.8 472.0H543.7M544.1 471.8V494.2M543.7 483.0H544.6M545.0 460.2V484.9M544.6 472.5H545.4M545.9 460.8V485.4M545.4 473.1H546.3M546.7 460.3V485.0M546.3 472.7H547.2M547.6 454.5V480.2M547.2 467.4H548.0M548.5 458.0V483.2M548.0 470.6H548.9M549.3 449.4V476.1M548.9 462.8H549.8M550.2 463.0V487.2M549.8 475.1H550.6M551.1 468.0V491.3M550.6 479.6H551.5M551.9 458.7V483.8M551.5 471.3H552.4M552.8 452.6V478.8M552.4 465.7H553.3M553.7 447.1V474.2M553.3 460.7H554.1M554.6 450.9V477.4M554.1 464.1H555.0M555.5 475.3V497.2M555.0 486.2H555.9M556.3 445.4V472.7M555.9 459.1H556.8M557.2 447.1V474.0M556.8 460.5H557.7M558.1 457.9V483.2M557.7 470.6H558.5M559.0 463.4V487.7M558.5 475.5H559.4M559.9 455.6V481.3M559.4 468.4H560.3M560.7 462.9V488.4M560.3 475.7H561.2M561.6 451.7V478.4M561.2 465.0H562.1M562.5 452.0V480.8M562.1 466.4H563.0M563.4 444.3V472.2M563.0 458.2H563.9M564.3 464.4V488.0M563.9 476.2H564.7M565.2 463.5V486.5M564.7 475.0H565.6M566.1 465.5V487.3M565.6 476.4H566.5M567.0 479.8V496.4M566.5 488.1H567.4M567.9 475.7V495.7M567.4 485.7H568.3M568.8 459.4V487.1M568.3 473.3H569.2M569.7 452.7V480.6M569.2 466.6H570.1M570.6 470.4V491.0M570.1 480.7H571.0M571.5 453.6V479.2M571.0 466.4H571.9M572.4 458.1V484.9M571.9 471.5H572.8M573.3 461.2V488.9M572.8 475.0H573.7M574.2 446.3V476.1M573.7 461.2H574.6M575.1 447.8V475.1M574.6 461.5H575.5M576.0 457.5V484.7M575.5 471.1H576.4M576.9 454.5V481.5M576.4 468.0H577.4M577.8 461.3V484.4M577.4 472.8H578.3M578.7 446.1V477.5M578.3 461.8H579.2M579.6 460.0V485.2M579.2 472.6H580.1M580.6 469.4V494.7M580.1 482.1H581.0M581.5 474.5V493.5M581.0 484.0H581.9M582.4 438.4V469.1M581.9 453.7H582.8M583.3 469.5V493.9M582.8 481.7H583.8M584.2 467.4V490.6M583.8 479.0H584.7M585.1 464.6V489.1M584.7 476.9H585.6M586.1 465.8V490.5M585.6 478.1H586.5M587.0 433.3V465.9M586.5 449.6H587.4M587.9 467.9V490.9M587.4 479.4H588.4M588.8 468.6V494.4M588.4 481.5H589.3M589.8 482.4V499.0M589.3 490.7H590.2M590.7 445.5V478.2M590.2 461.9H591.2M591.6 461.9V485.5M591.2 473.7H592.1M592.5 455.9V482.0M592.1 468.9H593.0M593.5 455.4V480.6M593.0 468.0H593.9M594.4 472.6V495.1M593.9 483.8H594.9M595.4 459.4V484.9M594.9 472.2H595.8M596.3 458.9V486.2M595.8 472.5H596.8M597.2 473.1V494.3M596.8 483.7H597.7M598.2 466.1V488.5M597.7 477.3H598.6M599.1 453.2V480.6M598.6 466.9H599.6M600.0 447.4V478.7M599.6 463.1H600.5M601.0 429.0V463.8M600.5 446.4H601.5M601.9 444.8V474.7M601.5 459.8H602.4M602.9 474.9V494.5M602.4 484.7H603.4M603.8 457.3V483.7M603.4 470.5H604.3M604.8 461.6V484.9M604.3 473.2H605.2M605.7 467.3V490.1M605.2 478.7H606.2M606.7 448.6V480.4M606.2 464.5H607.1M607.6 442.6V473.7M607.1 458.2H608.1M608.6 463.1V492.2M608.1 477.6H609.1M609.5 466.0V491.7M609.1 478.9H610.0M610.5 464.7V489.0M610.0 476.8H611.0M611.4 479.8V501.3M611.0 490.6H611.9M612.4 454.1V485.8M611.9 469.9H612.9M613.4 443.3V472.2M612.9 457.8H613.8M614.3 446.6V477.1M613.8 461.9H614.8M615.3 471.1V494.3M614.8 482.7H615.8M616.3 457.1V485.8M615.8 471.4H616.7M617.2 447.6V482.7M616.7 465.2H617.7M618.2 460.6V488.4M617.7 474.5H618.7M619.2 468.0V493.4M618.7 480.7H619.6M620.1 458.1V485.9M619.6 472.0H620.6M621.1 456.8V489.5M620.6 473.1H621.6M622.1 452.3V486.6M621.6 469.5H622.6M623.1 443.4V480.4M622.6 461.9H623.5M624.0 466.7V493.9M623.5 480.3H624.5M625.0 460.7V488.0M624.5 474.4H625.5M626.0 455.1V486.6M625.5 470.8H626.5M627.0 448.4V482.6M626.5 465.5H627.5M627.9 456.5V487.4M627.5 471.9H628.4M628.9 445.9V477.4M628.4 461.7H629.4M629.9 455.3V484.1M629.4 469.7H630.4M630.9 476.8V497.7M630.4 487.2H631.4M631.9 440.9V474.5M631.4 457.7H632.4M632.9 463.3V494.4M632.4 478.9H633.4M633.9 440.7V480.2M633.4 460.4H634.4M634.9 445.4V478.8M634.4 462.1H635.3M635.8 464.6V495.9M635.3 480.2H636.3M636.8 474.5V499.1M636.3 486.8H637.3M637.8 490.7V507.0M637.3 498.9H638.3M638.8 465.6V490.6M638.3 478.1H639.3M639.8 449.2V481.2M639.3 465.2H640.3M640.8 486.8V507.0M640.3 497.0H641.3M641.9 450.9V484.3M641.3 467.6H642.4M643.0 466.4V493.1M642.4 479.8H643.6M644.2 474.7V499.8M643.6 487.3H644.8M645.4 456.2V486.8M644.8 471.5H646.1M646.7 462.3V497.7M646.1 480.0H647.4M648.1 439.5V479.4M647.4 459.4H648.8M649.6 401.0V457.8M648.8 429.4H650.4M651.2 463.5V499.5M650.4 481.5H652.0M652.8 444.5V489.1M652.0 466.8H653.7M654.5 417.4V469.5M653.7 443.5H655.4M656.2 436.1V477.0M655.4 456.6H657.1M658.0 463.5V501.8M657.1 482.6H658.9M659.8 434.7V482.0M658.9 458.4H660.6M661.5 441.2V487.2M660.6 464.2H662.4M663.3 429.0V479.3M662.4 454.1H664.2M665.2 465.3V505.3M664.2 485.3H666.1M667.0 423.0V477.3M666.1 450.2H667.9M668.8 464.8V499.6M667.9 482.2H669.8M670.7 431.4V485.5M669.8 458.4H671.7M672.6 435.7V485.3M671.7 460.5H673.6M674.5 449.3V493.5M673.6 471.4H675.5M676.5 456.9V497.5M675.5 477.2H677.5M678.4 431.5V484.9M677.5 458.2H679.4M680.4 428.4V485.3M679.4 456.9H681.4M682.4 443.7V495.8M681.4 469.7H683.4M684.4 448.7V503.1M683.4 475.9H685.4M686.5 407.6V478.3M685.4 443.0H687.5M688.5 441.6V493.8M687.5 467.7H689.6M690.6 422.4V482.3M689.6 452.4H691.7M692.8 470.5V507.0M691.7 491.9H693.8M695.0 419.9V493.9M693.8 456.9H696.1M697.3 396.4V480.8M696.1 438.6H698.5M699.7 454.8V506.7M698.5 480.7H701.0M702.3 415.0V491.2M701.0 453.1H703.6M704.9 388.2V484.1M703.6 436.1H706.3M707.7 427.4V507.0M706.3 467.9H709.1M710.6 419.3V498.5M709.1 458.9H712.1M713.7 424.4V502.1M712.1 463.2H715.3M717.0 479.4V507.0M715.3 501.6H718.8M720.7 399.8V502.9M718.8 453.6H722.7M724.9 484.7V507.0M721.5 502.1H728.3M728.3 362.6V468.0M725.5 415.3H731.0M731.7 446.3V502.1M730.0 474.2H733.5M734.0 404.8V482.9M733.0 443.8H735.5M738.4 340.9V459.9M736.5 400.4H740.3M743.0 461.8V501.5M738.4 481.6H746.3M750.3 400.4V495.9M746.5 448.2H754.0M754.3 336.0V462.4M753.5 347.1H755.5"/>
</g>
<g fill="none" stroke="#000" stroke-width="1.3" stroke-linejoin="round"><polyline transform="translate(-1,-1)" points="150.5,117.5 152.8,116.0 154.6,109.0 157.7,105.8 163.5,102.7 169.4,98.6 175.2,95.1 181.1,91.3 186.9,88.1 192.8,85.1 198.6,82.2 204.5,79.6 210.3,77.0 216.2,75.0 220.0,74.0 225.0,72.3 230.0,71.6 235.0,71.6 240.0,71.9 247.0,72.7 252.0,74.5 257.0,75.8 262.0,76.3 268.0,76.0 273.0,74.7 280.0,72.9 287.0,71.0 294.0,69.2 301.0,66.9 306.5,65.4 312.0,64.5 317.0,63.5 322.0,62.8 328.0,62.3 333.0,62.0 338.0,61.8 349.0,61.6 359.0,61.4 370.0,61.4 380.5,62.3 391.0,64.2 401.7,66.4 412.0,69.0 422.8,72.4 433.0,76.6 444.0,81.7 450.9,86.5 456.9,90.2 462.8,94.4 468.8,98.6 474.7,100.9 480.6,102.1 486.6,103.9 492.5,107.7 498.4,114.2 504.4,120.5 510.3,123.1 516.3,124.3 522.2,125.8 528.1,127.5 534.1,129.6 541.9,132.2 553.8,135.8 565.6,139.3 577.5,143.3 589.4,148.3 601.3,153.2 610.0,157.3 618.1,162.5 626.2,167.8 634.3,173.5 642.4,179.4 650.5,185.3 658.5,191.3 666.6,198.2 674.7,205.8 682.8,213.9 690.9,222.8 699.0,232.5 701.3,236.9 712.5,251.5 721.5,265.0 723.8,268.4 723.8,268.4 727.2,268.4 727.2,276.3 730.5,276.3 730.5,285.3 733.9,285.3 733.9,292.0 737.3,292.0 738.4,305.6 747.4,305.6 748.1,319.1 753.0,319.1 754.2,332.6 755.5,336.0"/><polyline transform="translate(-1,0)" points="150.5,117.5 152.8,116.0 154.6,109.0 157.7,105.8 163.5,102.7 169.4,98.6 175.2,95.1 181.1,91.3 186.9,88.1 192.8,85.1 198.6,82.2 204.5,79.6 210.3,77.0 216.2,75.0 220.0,74.0 225.0,72.3 230.0,71.6 235.0,71.6 240.0,71.9 247.0,72.7 252.0,74.5 257.0,75.8 262.0,76.3 268.0,76.0 273.0,74.7 280.0,72.9 287.0,71.0 294.0,69.2 301.0,66.9 306.5,65.4 312.0,64.5 317.0,63.5 322.0,62.8 328.0,62.3 333.0,62.0 338.0,61.8 349.0,61.6 359.0,61.4 370.0,61.4 380.5,62.3 391.0,64.2 401.7,66.4 412.0,69.0 422.8,72.4 433.0,76.6 444.0,81.7 450.9,86.5 456.9,90.2 462.8,94.4 468.8,98.6 474.7,100.9 480.6,102.1 486.6,103.9 492.5,107.7 498.4,114.2 504.4,120.5 510.3,123.1 516.3,124.3 522.2,125.8 528.1,127.5 534.1,129.6 541.9,132.2 553.8,135.8 565.6,139.3 577.5,143.3 589.4,148.3 601.3,153.2 610.0,157.3 618.1,162.5 626.2,167.8 634.3,173.5 642.4,179.4 650.5,185.3 658.5,191.3 666.6,198.2 674.7,205.8 682.8,213.9 690.9,222.8 699.0,232.5 701.3,236.9 712.5,251.5 721.5,265.0 723.8,268.4 723.8,268.4 727.2,268.4 727.2,276.3 730.5,276.3 730.5,285.3 733.9,285.3 733.9,292.0 737.3,292.0 738.4,305.6 747.4,305.6 748.1,319.1 753.0,319.1 754.2,332.6 755.5,336.0"/><polyline transform="translate(-1,1)" points="150.5,117.5 152.8,116.0 154.6,109.0 157.7,105.8 163.5,102.7 169.4,98.6 175.2,95.1 181.1,91.3 186.9,88.1 192.8,85.1 198.6,82.2 204.5,79.6 210.3,77.0 216.2,75.0 220.0,74.0 225.0,72.3 230.0,71.6 235.0,71.6 240.0,71.9 247.0,72.7 252.0,74.5 257.0,75.8 262.0,76.3 268.0,76.0 273.0,74.7 280.0,72.9 287.0,71.0 294.0,69.2 301.0,66.9 306.5,65.4 312.0,64.5 317.0,63.5 322.0,62.8 328.0,62.3 333.0,62.0 338.0,61.8 349.0,61.6 359.0,61.4 370.0,61.4 380.5,62.3 391.0,64.2 401.7,66.4 412.0,69.0 422.8,72.4 433.0,76.6 444.0,81.7 450.9,86.5 456.9,90.2 462.8,94.4 468.8,98.6 474.7,100.9 480.6,102.1 486.6,103.9 492.5,107.7 498.4,114.2 504.4,120.5 510.3,123.1 516.3,124.3 522.2,125.8 528.1,127.5 534.1,129.6 541.9,132.2 553.8,135.8 565.6,139.3 577.5,143.3 589.4,148.3 601.3,153.2 610.0,157.3 618.1,162.5 626.2,167.8 634.3,173.5 642.4,179.4 650.5,185.3 658.5,191.3 666.6,198.2 674.7,205.8 682.8,213.9 690.9,222.8 699.0,232.5 701.3,236.9 712.5,251.5 721.5,265.0 723.8,268.4 723.8,268.4 727.2,268.4 727.2,276.3 730.5,276.3 730.5,285.3 733.9,285.3 733.9,292.0 737.3,292.0 738.4,305.6 747.4,305.6 748.1,319.1 753.0,319.1 754.2,332.6 755.5,336.0"/><polyline transform="translate(0,-1)" points="150.5,117.5 152.8,116.0 154.6,109.0 157.7,105.8 163.5,102.7 169.4,98.6 175.2,95.1 181.1,91.3 186.9,88.1 192.8,85.1 198.6,82.2 204.5,79.6 210.3,77.0 216.2,75.0 220.0,74.0 225.0,72.3 230.0,71.6 235.0,71.6 240.0,71.9 247.0,72.7 252.0,74.5 257.0,75.8 262.0,76.3 268.0,76.0 273.0,74.7 280.0,72.9 287.0,71.0 294.0,69.2 301.0,66.9 306.5,65.4 312.0,64.5 317.0,63.5 322.0,62.8 328.0,62.3 333.0,62.0 338.0,61.8 349.0,61.6 359.0,61.4 370.0,61.4 380.5,62.3 391.0,64.2 401.7,66.4 412.0,69.0 422.8,72.4 433.0,76.6 444.0,81.7 450.9,86.5 456.9,90.2 462.8,94.4 468.8,98.6 474.7,100.9 480.6,102.1 486.6,103.9 492.5,107.7 498.4,114.2 504.4,120.5 510.3,123.1 516.3,124.3 522.2,125.8 528.1,127.5 534.1,129.6 541.9,132.2 553.8,135.8 565.6,139.3 577.5,143.3 589.4,148.3 601.3,153.2 610.0,157.3 618.1,162.5 626.2,167.8 634.3,173.5 642.4,179.4 650.5,185.3 658.5,191.3 666.6,198.2 674.7,205.8 682.8,213.9 690.9,222.8 699.0,232.5 701.3,236.9 712.5,251.5 721.5,265.0 723.8,268.4 723.8,268.4 727.2,268.4 727.2,276.3 730.5,276.3 730.5,285.3 733.9,285.3 733.9,292.0 737.3,292.0 738.4,305.6 747.4,305.6 748.1,319.1 753.0,319.1 754.2,332.6 755.5,336.0"/><polyline transform="translate(0,0)" points="150.5,117.5 152.8,116.0 154.6,109.0 157.7,105.8 163.5,102.7 169.4,98.6 175.2,95.1 181.1,91.3 186.9,88.1 192.8,85.1 198.6,82.2 204.5,79.6 210.3,77.0 216.2,75.0 220.0,74.0 225.0,72.3 230.0,71.6 235.0,71.6 240.0,71.9 247.0,72.7 252.0,74.5 257.0,75.8 262.0,76.3 268.0,76.0 273.0,74.7 280.0,72.9 287.0,71.0 294.0,69.2 301.0,66.9 306.5,65.4 312.0,64.5 317.0,63.5 322.0,62.8 328.0,62.3 333.0,62.0 338.0,61.8 349.0,61.6 359.0,61.4 370.0,61.4 380.5,62.3 391.0,64.2 401.7,66.4 412.0,69.0 422.8,72.4 433.0,76.6 444.0,81.7 450.9,86.5 456.9,90.2 462.8,94.4 468.8,98.6 474.7,100.9 480.6,102.1 486.6,103.9 492.5,107.7 498.4,114.2 504.4,120.5 510.3,123.1 516.3,124.3 522.2,125.8 528.1,127.5 534.1,129.6 541.9,132.2 553.8,135.8 565.6,139.3 577.5,143.3 589.4,148.3 601.3,153.2 610.0,157.3 618.1,162.5 626.2,167.8 634.3,173.5 642.4,179.4 650.5,185.3 658.5,191.3 666.6,198.2 674.7,205.8 682.8,213.9 690.9,222.8 699.0,232.5 701.3,236.9 712.5,251.5 721.5,265.0 723.8,268.4 723.8,268.4 727.2,268.4 727.2,276.3 730.5,276.3 730.5,285.3 733.9,285.3 733.9,292.0 737.3,292.0 738.4,305.6 747.4,305.6 748.1,319.1 753.0,319.1 754.2,332.6 755.5,336.0"/><polyline transform="translate(0,1)" points="150.5,117.5 152.8,116.0 154.6,109.0 157.7,105.8 163.5,102.7 169.4,98.6 175.2,95.1 181.1,91.3 186.9,88.1 192.8,85.1 198.6,82.2 204.5,79.6 210.3,77.0 216.2,75.0 220.0,74.0 225.0,72.3 230.0,71.6 235.0,71.6 240.0,71.9 247.0,72.7 252.0,74.5 257.0,75.8 262.0,76.3 268.0,76.0 273.0,74.7 280.0,72.9 287.0,71.0 294.0,69.2 301.0,66.9 306.5,65.4 312.0,64.5 317.0,63.5 322.0,62.8 328.0,62.3 333.0,62.0 338.0,61.8 349.0,61.6 359.0,61.4 370.0,61.4 380.5,62.3 391.0,64.2 401.7,66.4 412.0,69.0 422.8,72.4 433.0,76.6 444.0,81.7 450.9,86.5 456.9,90.2 462.8,94.4 468.8,98.6 474.7,100.9 480.6,102.1 486.6,103.9 492.5,107.7 498.4,114.2 504.4,120.5 510.3,123.1 516.3,124.3 522.2,125.8 528.1,127.5 534.1,129.6 541.9,132.2 553.8,135.8 565.6,139.3 577.5,143.3 589.4,148.3 601.3,153.2 610.0,157.3 618.1,162.5 626.2,167.8 634.3,173.5 642.4,179.4 650.5,185.3 658.5,191.3 666.6,198.2 674.7,205.8 682.8,213.9 690.9,222.8 699.0,232.5 701.3,236.9 712.5,251.5 721.5,265.0 723.8,268.4 723.8,268.4 727.2,268.4 727.2,276.3 730.5,276.3 730.5,285.3 733.9,285.3 733.9,292.0 737.3,292.0 738.4,305.6 747.4,305.6 748.1,319.1 753.0,319.1 754.2,332.6 755.5,336.0"/><polyline transform="translate(1,-1)" points="150.5,117.5 152.8,116.0 154.6,109.0 157.7,105.8 163.5,102.7 169.4,98.6 175.2,95.1 181.1,91.3 186.9,88.1 192.8,85.1 198.6,82.2 204.5,79.6 210.3,77.0 216.2,75.0 220.0,74.0 225.0,72.3 230.0,71.6 235.0,71.6 240.0,71.9 247.0,72.7 252.0,74.5 257.0,75.8 262.0,76.3 268.0,76.0 273.0,74.7 280.0,72.9 287.0,71.0 294.0,69.2 301.0,66.9 306.5,65.4 312.0,64.5 317.0,63.5 322.0,62.8 328.0,62.3 333.0,62.0 338.0,61.8 349.0,61.6 359.0,61.4 370.0,61.4 380.5,62.3 391.0,64.2 401.7,66.4 412.0,69.0 422.8,72.4 433.0,76.6 444.0,81.7 450.9,86.5 456.9,90.2 462.8,94.4 468.8,98.6 474.7,100.9 480.6,102.1 486.6,103.9 492.5,107.7 498.4,114.2 504.4,120.5 510.3,123.1 516.3,124.3 522.2,125.8 528.1,127.5 534.1,129.6 541.9,132.2 553.8,135.8 565.6,139.3 577.5,143.3 589.4,148.3 601.3,153.2 610.0,157.3 618.1,162.5 626.2,167.8 634.3,173.5 642.4,179.4 650.5,185.3 658.5,191.3 666.6,198.2 674.7,205.8 682.8,213.9 690.9,222.8 699.0,232.5 701.3,236.9 712.5,251.5 721.5,265.0 723.8,268.4 723.8,268.4 727.2,268.4 727.2,276.3 730.5,276.3 730.5,285.3 733.9,285.3 733.9,292.0 737.3,292.0 738.4,305.6 747.4,305.6 748.1,319.1 753.0,319.1 754.2,332.6 755.5,336.0"/><polyline transform="translate(1,0)" points="150.5,117.5 152.8,116.0 154.6,109.0 157.7,105.8 163.5,102.7 169.4,98.6 175.2,95.1 181.1,91.3 186.9,88.1 192.8,85.1 198.6,82.2 204.5,79.6 210.3,77.0 216.2,75.0 220.0,74.0 225.0,72.3 230.0,71.6 235.0,71.6 240.0,71.9 247.0,72.7 252.0,74.5 257.0,75.8 262.0,76.3 268.0,76.0 273.0,74.7 280.0,72.9 287.0,71.0 294.0,69.2 301.0,66.9 306.5,65.4 312.0,64.5 317.0,63.5 322.0,62.8 328.0,62.3 333.0,62.0 338.0,61.8 349.0,61.6 359.0,61.4 370.0,61.4 380.5,62.3 391.0,64.2 401.7,66.4 412.0,69.0 422.8,72.4 433.0,76.6 444.0,81.7 450.9,86.5 456.9,90.2 462.8,94.4 468.8,98.6 474.7,100.9 480.6,102.1 486.6,103.9 492.5,107.7 498.4,114.2 504.4,120.5 510.3,123.1 516.3,124.3 522.2,125.8 528.1,127.5 534.1,129.6 541.9,132.2 553.8,135.8 565.6,139.3 577.5,143.3 589.4,148.3 601.3,153.2 610.0,157.3 618.1,162.5 626.2,167.8 634.3,173.5 642.4,179.4 650.5,185.3 658.5,191.3 666.6,198.2 674.7,205.8 682.8,213.9 690.9,222.8 699.0,232.5 701.3,236.9 712.5,251.5 721.5,265.0 723.8,268.4 723.8,268.4 727.2,268.4 727.2,276.3 730.5,276.3 730.5,285.3 733.9,285.3 733.9,292.0 737.3,292.0 738.4,305.6 747.4,305.6 748.1,319.1 753.0,319.1 754.2,332.6 755.5,336.0"/><polyline transform="translate(1,1)" points="150.5,117.5 152.8,116.0 154.6,109.0 157.7,105.8 163.5,102.7 169.4,98.6 175.2,95.1 181.1,91.3 186.9,88.1 192.8,85.1 198.6,82.2 204.5,79.6 210.3,77.0 216.2,75.0 220.0,74.0 225.0,72.3 230.0,71.6 235.0,71.6 240.0,71.9 247.0,72.7 252.0,74.5 257.0,75.8 262.0,76.3 268.0,76.0 273.0,74.7 280.0,72.9 287.0,71.0 294.0,69.2 301.0,66.9 306.5,65.4 312.0,64.5 317.0,63.5 322.0,62.8 328.0,62.3 333.0,62.0 338.0,61.8 349.0,61.6 359.0,61.4 370.0,61.4 380.5,62.3 391.0,64.2 401.7,66.4 412.0,69.0 422.8,72.4 433.0,76.6 444.0,81.7 450.9,86.5 456.9,90.2 462.8,94.4 468.8,98.6 474.7,100.9 480.6,102.1 486.6,103.9 492.5,107.7 498.4,114.2 504.4,120.5 510.3,123.1 516.3,124.3 522.2,125.8 528.1,127.5 534.1,129.6 541.9,132.2 553.8,135.8 565.6,139.3 577.5,143.3 589.4,148.3 601.3,153.2 610.0,157.3 618.1,162.5 626.2,167.8 634.3,173.5 642.4,179.4 650.5,185.3 658.5,191.3 666.6,198.2 674.7,205.8 682.8,213.9 690.9,222.8 699.0,232.5 701.3,236.9 712.5,251.5 721.5,265.0 723.8,268.4 723.8,268.4 727.2,268.4 727.2,276.3 730.5,276.3 730.5,285.3 733.9,285.3 733.9,292.0 737.3,292.0 738.4,305.6 747.4,305.6 748.1,319.1 753.0,319.1 754.2,332.6 755.5,336.0"/></g>
<path d="M149.0 471.5H757.0" stroke="#00ff00" stroke-width="3" fill="none"/>
</svg></body></html>
